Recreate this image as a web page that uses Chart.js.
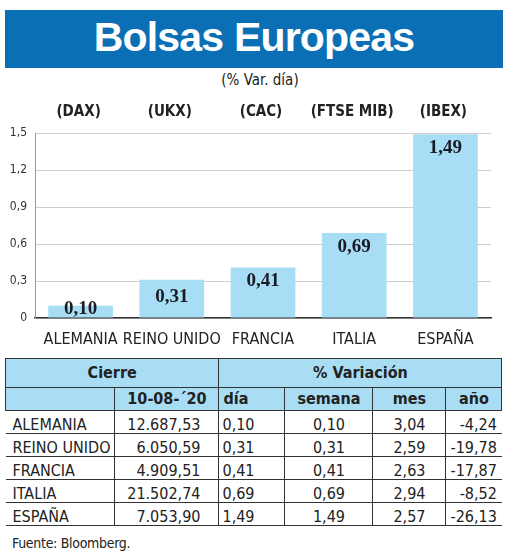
<!DOCTYPE html>
<html>
<head>
<meta charset="utf-8">
<script src="https://cdn.jsdelivr.net/npm/chart.js@4"></script>
<style>
  body { margin: 0; background: #fff; width: 520px; height: 555px; position: relative; overflow: hidden; }
  .narrow { font-family: "Liberation Sans Narrow", "DejaVu Sans Condensed", "Roboto Condensed", "Liberation Sans", sans-serif; }
  #banner { position: absolute; left: 5px; top: 10px; width: 498px; height: 58px; background: #0b6fb6; }
  #banner span { position: absolute; left: 0; right: 0; top: 4px; text-align: center; color: #fff;
    font-family: "Liberation Sans", "Open Sans", sans-serif; font-weight: bold; font-size: 41px; letter-spacing: -0.8px; }
  #sub { position: absolute; left: 0; width: 520px; top: 71px; text-align: center; font-size: 15px; color: #222; }
  #wrap { position: absolute; left: 0; top: 98px; width: 505px; height: 250px; }
  #tbl { position: absolute; left: 5px; top: 358px; border-collapse: collapse; table-layout: fixed; font-size: 16px; color: #222; }
  #tbl td { padding: 0 4px 0 4px; height: 22px; line-height: 16px; vertical-align: bottom; border-bottom: 1px solid #333; white-space: nowrap; }
  #tbl tr.h td { background: #a8ddf4; font-weight: bold; text-align: center; vertical-align: middle; border-bottom: 1.5px solid #333; }
  #tbl tr.h1 td { height: 28px; border-top: 1.5px solid #333; }
  #tbl tr.h td:first-child { border-left: 1.5px solid #333; }
  #tbl tr.h td:last-child { border-right: 1.5px solid #333; }
  #tbl td.v { border-right: 1px solid #333; }
  #src { position: absolute; left: 12px; top: 535px; font-size: 14px; color: #222; letter-spacing: -0.3px; }
</style>
</head>
<body>
<div id="banner"><span>Bolsas Europeas</span></div>
<div id="sub" class="narrow">(% Var. día)</div>
<div id="wrap"><canvas id="chart"></canvas></div>
<table id="tbl" class="narrow"></table>
<div id="src" class="narrow">Fuente: Bloomberg.</div>
<script>
const categories = ["ALEMANIA", "REINO UNIDO", "FRANCIA", "ITALIA", "ESPAÑA"];
const tickers = ["(DAX)", "(UKX)", "(CAC)", "(FTSE MIB)", "(IBEX)"];
const dayChange = [0.10, 0.31, 0.41, 0.69, 1.49];
const yTickLabels = ["0", "0,3", "0,6", "0,9", "1,2", "1,5"];

const closeDate = "10-08-´20";
const closeValues = ["12.687,53", "6.050,59", "4.909,51", "21.502,74", "7.053,90"];
const weekChange = [0.10, 0.31, 0.41, 0.69, 1.49];
const monthChange = [3.04, 2.59, 2.63, 2.94, 2.57];
const yearChange = [-4.24, -19.78, -17.87, -8.52, -26.13];

const NARROW = '"Liberation Sans Narrow", "DejaVu Sans Condensed", "Roboto Condensed", "Liberation Sans", sans-serif';

function fmt(v) {
  return v.toFixed(2).replace(".", ",");
}

// labels in the bars + index names above the plot
const barText = {
  id: "barText",
  afterDatasetsDraw(chart) {
    const ctx = chart.ctx;
    const meta = chart.getDatasetMeta(0);
    ctx.save();
    ctx.textAlign = "center";
    ctx.textBaseline = "middle";
    ctx.fillStyle = "#1b1b24";
    ctx.font = "bold 19px 'Liberation Serif', 'DejaVu Serif', serif";
    meta.data.forEach(function (bar, i) {
      var h = bar.base - bar.y;
      var y = h < 45 ? (bar.y + bar.base) / 2 - 2 : bar.y + 14;
      ctx.fillText(fmt(dayChange[i]), bar.x, y);
    });
    ctx.font = "bold 15px " + NARROW;
    ctx.fillStyle = "#222";
    meta.data.forEach(function (bar, i) {
      ctx.fillText(tickers[i], bar.x - 2, chart.chartArea.top - 21);
    });
    ctx.restore();
  }
};

const ctx = document.getElementById("chart").getContext("2d");
const myChart = new Chart(ctx, {
  type: "bar",
  data: {
    labels: categories,
    datasets: [{
      data: dayChange,
      backgroundColor: "#a8def5",
      borderWidth: 0,
      barPercentage: 0.71,
      categoryPercentage: 1
    }]
  },
  options: {
    responsive: true,
    maintainAspectRatio: false,
    animation: false,
    layout: { padding: { top: 35, right: 14, left: 0, bottom: 0 } },
    plugins: { legend: { display: false }, tooltip: { enabled: false } },
    scales: {
      x: {
        grid: { display: false },
        border: { color: "#333", width: 1.5 },
        ticks: { color: "#222", font: { family: NARROW, size: 16 }, padding: 4, maxRotation: 0, autoSkip: false },
        afterFit: function (s) { s.height = 30; }
      },
      y: {
        min: 0,
        max: 1.5,
        grid: { color: "#cfcfcf", drawTicks: false },
        border: { color: "#999", width: 1 },
        ticks: {
          stepSize: 0.3,
          padding: 8,
          color: "#333",
          font: { family: NARROW, size: 12 },
          callback: function (v, i) { return yTickLabels[i]; }
        },
        afterFit: function (s) { s.width = 35; }
      }
    }
  },
  plugins: [barText]
});

// table under the chart
const tbl = document.getElementById("tbl");
const colW = [108, 104, 66, 88, 73, 53];
let html = "<colgroup>" + colW.map(function (w) { return '<col style="width:' + w + 'px">'; }).join("") + "</colgroup>";
html += '<tr class="h h1"><td colspan="2" class="v">Cierre</td><td colspan="4">% Variación</td></tr>';
html += '<tr class="h"><td class="v"></td><td class="v">' + closeDate + '</td><td class="v" style="text-align:left">día</td><td class="v">semana</td><td class="v">mes</td><td>año</td></tr>';
categories.forEach(function (c, i) {
  html += "<tr>" +
    '<td class="v" style="padding-left:7px">' + c + "</td>" +
    '<td class="v" style="text-align:right;padding-right:18px">' + closeValues[i] + "</td>" +
    '<td class="v" style="text-align:left;padding-left:3px">' + fmt(dayChange[i]) + "</td>" +
    '<td class="v" style="text-align:center">' + fmt(weekChange[i]) + "</td>" +
    '<td class="v" style="text-align:center">' + fmt(monthChange[i]) + "</td>" +
    '<td style="text-align:right;padding-right:5px">' + fmt(yearChange[i]) + "</td>" +
    "</tr>";
});
tbl.innerHTML = html;
</script>
</body>
</html>
